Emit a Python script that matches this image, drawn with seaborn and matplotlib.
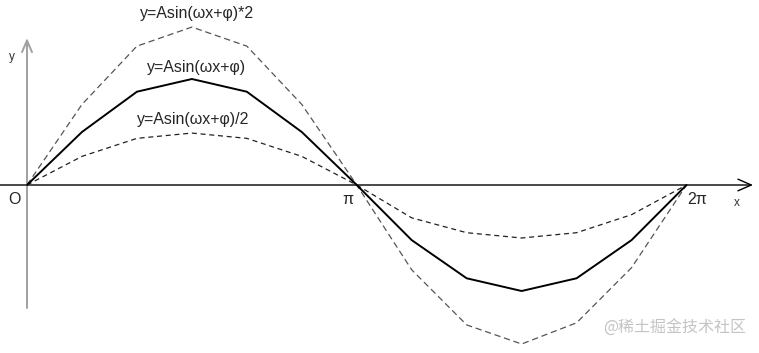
import numpy as np
import pandas as pd
import matplotlib
matplotlib.use("Agg")
import matplotlib.pyplot as plt
import seaborn as sns

sns.set_theme(style="white")
plt.rcParams['font.family'] = ['Liberation Sans', 'DejaVu Sans']

# x positions in steps of pi/6 (0 .. 12)
steps = [0, 1, 2, 3, 4, 5, 6, 7, 8, 9, 10, 11, 12]
# values (unit = amplitude of the solid curve)
y_base = [0, 0.50, 0.88, 1.00, 0.88, 0.50, 0, -0.52, -0.88, -1.00, -0.88, -0.52, 0]
y_double = [0, 0.76, 1.31, 1.49, 1.31, 0.76, 0, -0.80, -1.32, -1.50, -1.30, -0.78, 0]
y_half = [0, 0.27, 0.44, 0.49, 0.44, 0.27, 0, -0.31, -0.45, -0.50, -0.45, -0.28, 0]

labels = ["y=Asin(ωx+φ)*2", "y=Asin(ωx+φ)", "y=Asin(ωx+φ)/2"]
tick_labels = ["O", "π", "2π"]

x = np.array(steps) * np.pi / 6
df = pd.DataFrame({"x": x, "base": y_base, "double": y_double, "half": y_half})

W, H = 759, 353
fig = plt.figure(figsize=(W / 100, H / 100), dpi=100)
ax = fig.add_axes([0, 0, 1, 1])

k = 659.5 / (2 * np.pi)   # px per radian
ky = 106.0                # px per unit
ox, oy = 27, 185
ax.set_xlim(-ox / k, (W - ox) / k)
ax.set_ylim(-(H - oy) / ky, oy / ky)
ax.axis("off")

# axes
xmax = (753 - ox) / k
ax.annotate("", xy=(xmax, 0), xytext=(ax.get_xlim()[0], 0),
            arrowprops=dict(arrowstyle="->,head_length=0.8,head_width=0.35", color="black", lw=1.0,
                            shrinkA=0, shrinkB=0))
ytop = (oy - 38) / ky
ybot = -(308 - oy) / ky
ax.annotate("", xy=(0, ytop), xytext=(0, ybot),
            arrowprops=dict(arrowstyle="->,head_length=0.7,head_width=0.3", color="#a0a0a0", lw=1.4,
                            shrinkA=0, shrinkB=0))

sns.lineplot(data=df, x="x", y="double", ax=ax, color="#555555", lw=0.9,
             linestyle=(0, (5, 3)), zorder=3)
sns.lineplot(data=df, x="x", y="base", ax=ax, color="black", lw=1.4, zorder=4)
sns.lineplot(data=df, x="x", y="half", ax=ax, color="#222222", lw=0.9,
             linestyle=(0, (4, 3)), zorder=3)

fs = 11.5
ax.text((197 - ox) / k, (oy - 14) / ky, labels[0], ha="center", va="center", fontsize=fs)
ax.text((197 - ox) / k, (oy - 68) / ky, labels[1], ha="center", va="center", fontsize=fs)
ax.text((193 - ox) / k, (oy - 120) / ky, labels[2], ha="center", va="center", fontsize=fs)

ax.text((14 - ox) / k, (oy - 200) / ky, tick_labels[0], ha="center", va="center", fontsize=fs)
ax.text((348 - ox) / k, (oy - 200) / ky, tick_labels[1], ha="center", va="center", fontsize=fs)
ax.text((697 - ox) / k, (oy - 200) / ky, tick_labels[2], ha="center", va="center", fontsize=fs)

ax.text((737 - ox) / k, (oy - 203) / ky, "x", ha="center", va="center", fontsize=8.5, color="#333333")
ax.text((12 - ox) / k, (oy - 57) / ky, "y", ha="center", va="center", fontsize=8.5, color="#333333")

ax.text((675 - ox) / k, (oy - 328) / ky, "@稀土掘金技术社区", ha="center", va="center",
        fontsize=11.5, color="#c4c4c4", family=["Noto Sans CJK SC", "DejaVu Sans"])

fig.savefig("out.png", dpi=100)
